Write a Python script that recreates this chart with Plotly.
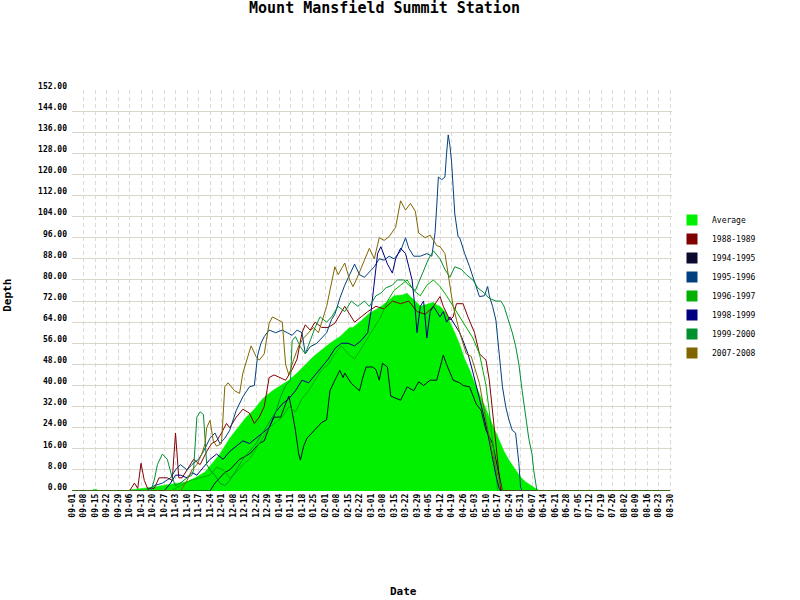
import plotly.graph_objects as go

# ---------------- data ----------------
tick_labels = ["09-01","09-08","09-15","09-22","09-29","10-06","10-13","10-20","10-27","11-03",
               "11-10","11-17","11-24","12-01","12-08","12-15","12-22","12-29","01-04","01-11",
               "01-18","01-25","02-01","02-08","02-15","02-22","03-01","03-08","03-15","03-22",
               "03-29","04-05","04-12","04-19","04-26","05-03","05-10","05-17","05-24","05-31",
               "06-07","06-14","06-21","06-28","07-05","07-12","07-19","07-26","08-02","08-09",
               "08-16","08-23","08-30"]
tick_days = [7 * i for i in range(len(tick_labels))]
y_ticks = list(range(0, 153, 8))

# day index = days since 09-01
avg_day = [0,12,13,15,16,33,36,44,50,56,63,70,75,81,84,90,96,101,106,111,116,122,127,132,137,
           142,147,152,157,163,169,171,176,181,187,192,196,201,204,206,209,212,215,217,220,222,
           224,228,230,233,236,239,242,245,248,251,254,257,260,263,266,270,273,276,279,282,285,364]
avg_val = [0,0,0.6,0.6,0,0,0.5,1,1.5,2.2,2.9,3.5,5,7.2,9.5,14,20,24,28,31,35,38,40,42,44.7,
           48,51,53.5,56,58.5,62,62,64.5,67.4,69.5,71.8,74,74.3,75,73.6,72,70,70.5,71,71.5,70.5,
           70,67.3,64,60,55.5,50,46,41,37,32.5,28,23.5,19.2,15,11.7,8,5.3,3.5,2.2,1,0,0]

s8889_day = [0,35,38,40,42,44,46,50,53,58,61,63,65,67,70,74,78,82,85,88,91,94,96,100,104,108,111,
             114,117,120,123,127,130,134,137,140,142,145,148,152,156,160,163,166,169,172,176,180,
             185,190,195,200,205,210,215,220,224,226,230,232,234,238,241,245,248,252,254,256,258,
             260,261,364]
s8889_val = [0,0,3,1,10.5,4,1,1,5,5,4,22,5,5,8,12,10,15,18,19,22,25.6,24,28,31,29.5,25.6,
             28,32,43,44,43,42,46,50,60,63,61,64,62,62,63.6,67,70,67,64,66,68,
             70,69,72,71,72,68,67,70,73.7,70,64.8,66,71,71,66,60,52,49.6,42,30.6,19,
             8,0,0]

s9495_day = [0,84,87,90,93,96,99,102,105,108,111,114,117,120,123,127,130,132,134,136,138,139,141,
             143,146,149,152,155,157,160,163,165,166,170,175,177,179,183,185,187,189,192,194,200,
             204,208,211,214,218,222,226,228,230,232,236,238,242,246,249,252,256,260,262,364]
s9495_val = [0,0,3,5,7,8,10,12,13,14,16,18,19,24,28,28,33,36,30,23,14,11.7,17,
             20,22,24,26,27,38,42,45.7,43,44.7,40.8,38,43,47,47,46,42,48.4,47,36,34.4,
             39.5,38,41.4,40,42,42,51.5,48,45,42,41,40,39.5,33,30.6,23,18,5.3,0,0]

s9596_day = [0,45,50,55,60,63,66,70,73,77,80,84,87,90,93,96,100,104,108,111,113,115,117,120,124,
             128,131,134,137,140,142,145,149,152,155,158,160,163,166,169,172,175,178,181,184,187,
             190,193,196,200,203,205,208,212,216,219,221,222,223,225,227,228,229,230,231,233,235,
             236,239,242,244,246,248,251,253,254,256,258,260,262,264,266,268,270,272,273,274,364]
s9596_val = [0,0,2,3,5,8,10,8,10,12,15,20,22,18,20,23,30.6,35.7,39.5,40,51.5,56,58.5,61,60,
             61,60,59,61,60,52,54.7,56,58,60,65,67,73,78,82,86,82,81,83,85,88,
             87.5,89,88,91,96,92,89,89,90,89,98,108,119,118,119,128,135,131,125,105,96.4,
             96,90,85,81,77,73.7,74,77.5,74,70,64.8,52,39.5,32,26.8,23,22,10.5,1.5,0,0]

s9697_day = [0,60,66,72,78,84,88,92,96,100,104,108,112,116,120,124,128,132,136,140,144,148,152,
             156,160,164,168,172,176,180,184,188,192,196,200,204,208,212,216,220,224,228,232,236,
             240,244,248,252,254,256,258,259,364]
s9697_val = [0,0,2,4,5,6,9,8,5,7,10,12,16,20,24,26,28,32,30,35,38,42,46,
             48,52,55,52,50,54,58,62,66,72,76,78,80,76,74,78,80,77.5,74,70,66,
             62,58,52,40,30,20,8,0,0]

s9899_day = [0,56,60,63,66,70,73,76,80,84,88,92,96,100,104,108,112,116,120,124,128,132,136,140,
             144,148,152,156,160,164,168,172,176,180,182,184,186,188,190,192,195,197,200,203,205,
             207,209,210,212,214,216,218,220,222,224,226,228,230,232,234,236,238,241,244,247,250,
             253,256,258,260,261,364]
s9899_val = [0,0,3,6,6,5,7,6,9,12,14,12,15,17,19,18,20,22,24,30,33,35,38,42,
             41,44,47,50,54,56,56,55,57,60,68,80,90,92.6,89,86,82.6,88,92,90,85,
             80,68,60,70,72,58,68,70,68,66,68,64,66,64,62,60,57,52,45,38,30,
             22,12,6,1,0,0]

s9900_day = [0,48,50,52,55,58,61,63,66,70,73,74,76,78,80,82,84,87,90,93,96,100,104,108,112,116,
             120,124,127,130,133,134,136,139,142,145,148,151,155,158,162,166,170,174,178,181,185,
             188,191,195,198,202,205,209,213,217,220,224,227,230,233,237,240,244,247,251,254,258,
             261,263,265,268,270,272,274,276,278,280,281,283,364]
s9900_val = [0,0,4,10,14,12,5,2,3,5,6,8,28,30,29,10,8,6,3,2,4,8,12,15,18,22,
             26,30,35.7,40,42,57,58.5,54.7,52,57,62,66,64,66,70,68,72,70,72,70,74,
             75,77,78,80,80,78,76,82,88,91,88,84,81,85,84,82,80,77,75,73,72,
             72,70,66,60,55,48,38,29.5,20,14,8,0,0]

s0708_day = [0,66,70,73,76,79,81,82,84,86,88,91,93,95,99,102,104,109,112,114,117,120,122,125,128,
             130,132,135,138,141,144,147,150,152,155,160,162,166,169,171,173,178,181,184,187,190,
             193,197,200,203,206,209,211,215,218,222,224,227,229,232,236,240,243,248,252,256,260,
             262,364]
s0708_val = [0,0,4,8,10,14,18,24,26.8,19,17,18,39.5,41,38,37,44.7,55,51,49.6,52,63.6,66,65,64,
             48,44,50,55,58,60,62,60,64,70,85,82,86.4,80,77.5,80,87.5,92,88,96,95,
             96.4,100,110,106.5,109,106,97.8,96,97,93,92.6,90,82.6,70,60,52,51,40.8,26.8,14,4,
             0,0]

seasons = [
    ("1988-1989", s8889_day, s8889_val, "#800000"),
    ("1994-1995", s9495_day, s9495_val, "#0a0a2e"),
    ("1995-1996", s9596_day, s9596_val, "#004080"),
    ("1996-1997", s9697_day, s9697_val, "#00b000"),
    ("1998-1999", s9899_day, s9899_val, "#000080"),
    ("1999-2000", s9900_day, s9900_val, "#009030"),
    ("2007-2008", s0708_day, s0708_val, "#806600"),
]
avg_color = "#00f000"

for name, d, v, c in seasons:
    assert len(d) == len(v), (name, len(d), len(v))
assert len(avg_day) == len(avg_val)

# ---------------- figure ----------------
MONO = "DejaVu Sans Mono"
fig = go.Figure()

fig.add_trace(go.Scatter(x=avg_day, y=avg_val, mode="lines", fill="tozeroy",
                         line=dict(color=avg_color, width=0.5), fillcolor=avg_color,
                         showlegend=False, legendgroup="avg", hoverinfo="skip"))
for name, d, v, c in seasons:
    fig.add_trace(go.Scatter(x=d, y=v, mode="lines", line=dict(color=c, width=1),
                             showlegend=False, legendgroup=name, name=name))

# legend entries with square swatches
fig.add_trace(go.Scatter(x=[None], y=[None], mode="markers", name="Average", legendgroup="avg",
                         marker=dict(symbol="square", size=11, color=avg_color)))
for name, d, v, c in seasons:
    fig.add_trace(go.Scatter(x=[None], y=[None], mode="markers", name=name, legendgroup=name,
                             marker=dict(symbol="square", size=11, color=c)))

fig.update_layout(
    width=800, height=600,
    margin=dict(l=72, r=128, t=90, b=109),
    paper_bgcolor="white", plot_bgcolor="white",
    title=dict(text="Mount Mansfield Summit Station", x=384.5 / 800, xanchor="center",
               y=1 - 8 / 600, yanchor="middle", yref="container",
               font=dict(family=MONO, size=15, color="black", weight="bold")),
    showlegend=True,
    legend=dict(x=1.0, xanchor="left", y=0.51, yanchor="middle",
                font=dict(family=MONO, size=8, color="black"),
                bgcolor="rgba(0,0,0,0)", itemsizing="trace", tracegroupgap=0),
    xaxis=dict(range=[0, 365.2], tickmode="array", tickvals=tick_days, ticktext=tick_labels,
               tickangle=-90, showgrid=True, gridcolor="#dcdad4", griddash="4px,3px",
               gridwidth=1, zeroline=False, showline=False, ticks="",
               tickfont=dict(family=MONO, size=8, color="black", weight="bold")),
    yaxis=dict(range=[0, 152], tickmode="array", tickvals=y_ticks,
               ticktext=["%.2f" % t for t in y_ticks],
               showgrid=True, gridcolor="#dad6cc", gridwidth=1, zeroline=False,
               showline=False, ticks="", ticklabelstandoff=4, ticklabelshift=-4,
               tickfont=dict(family=MONO, size=8, color="black", weight="bold")),
    annotations=[
        dict(text="Depth", xref="paper", yref="paper", x=(8 - 72) / 600, y=(490.7 - 295.5) / 401,
             textangle=-90, showarrow=False, xanchor="center", yanchor="middle",
             font=dict(family=MONO, size=11, color="black", weight="bold")),
        dict(text="Date", xref="paper", yref="paper", x=(403 - 72) / 600, y=(490.7 - 591) / 401,
             showarrow=False, xanchor="center", yanchor="middle",
             font=dict(family=MONO, size=11, color="black", weight="bold")),
    ],
)

fig.write_html("out.html")
